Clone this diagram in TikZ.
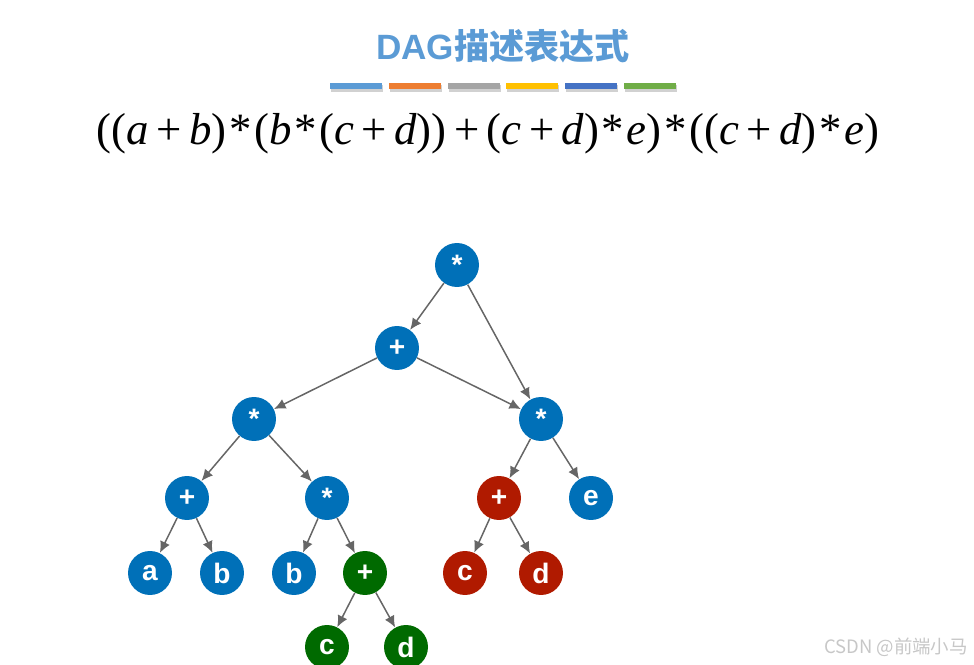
\documentclass[tikz,border=0pt]{standalone}
\usepackage{fontspec}
\setmainfont{Liberation Serif}
\setsansfont{Liberation Sans}
\newfontfamily\cjk{Noto Sans CJK SC}
\usepackage{xcolor}
\usetikzlibrary{arrows.meta}
\definecolor{TitleBlue}{HTML}{5B9BD5}
\definecolor{NodeBlue}{HTML}{0070B8}
\definecolor{NodeGreen}{HTML}{006A00}
\definecolor{NodeRed}{HTML}{B01A00}
\definecolor{EdgeGray}{HTML}{666666}
\definecolor{BarA}{HTML}{5B9BD5}
\definecolor{BarB}{HTML}{ED7D31}
\definecolor{BarC}{HTML}{A5A5A5}
\definecolor{BarD}{HTML}{FFC000}
\definecolor{BarE}{HTML}{4472C4}
\definecolor{BarF}{HTML}{70AD47}
\newcommand{\vx}[1]{\textit{#1}}
\newcommand{\op}[1]{\,#1\,}
\newcommand{\tm}{\kern1.5pt*\kern1.5pt}
\tikzset{
  vertex/.style={circle,minimum size=0.88cm,inner sep=0pt,text=white,
                 font=\sffamily\bfseries\fontsize{16}{16}\selectfont},
  bluenode/.style={vertex,fill=NodeBlue},
  greennode/.style={vertex,fill=NodeGreen},
  rednode/.style={vertex,fill=NodeRed},
  flow/.style={-{Latex[length=2.3mm,width=2.1mm]},line width=0.85pt,draw=EdgeGray},
  title/.style={font=\sffamily\bfseries\fontsize{20}{20}\selectfont,text=TitleBlue},
  watermark/.style={font=\cjk\fontsize{10.5}{10.5}\selectfont,text=black!22}
}

\begin{document}
\begin{tikzpicture}[x=0.02cm,y=-0.02cm]
  \useasboundingbox (0,0) rectangle (974,665);
  \node[title] (head) at (503,46) {DAG{\cjk 描述表达式}};
  % colour bars under the heading
  \foreach \c [count=\i from 0] in {BarA,BarB,BarC,BarD,BarE,BarF}{
    \fill[black!18] (331+\i*58.8,85) rectangle ++(52,7);
    \fill[\c] (330+\i*58.8,83) rectangle ++(52,6);
  }
  \node[font=\fontsize{25.5}{25.5}\selectfont] (expr) at (488,134)
    {((\vx{a}\op{+}\vx{b})\tm(\vx{b}\tm(\vx{c}\op{+}\vx{d}))\op{+}(\vx{c}\op{+}\vx{d})\tm\vx{e})\tm((\vx{c}\op{+}\vx{d})\tm\vx{e})};

  \node[bluenode] (root) at (457,265) {*};
  \node[bluenode] (sum) at (397,348) {+};
  \node[bluenode] (prodL) at (254,419) {*};
  \node[bluenode] (prodR) at (541,419) {*};
  \node[bluenode] (sumAB) at (187,498) {+};
  \node[bluenode] (prodB) at (327,498) {*};
  \node[rednode] (sumCDr) at (499,498) {+};
  \node[bluenode] (e1) at (591,498) {e};
  \node[bluenode] (a1) at (150,573) {a};
  \node[bluenode] (b1) at (222,573) {b};
  \node[bluenode] (b2) at (294,573) {b};
  \node[greennode] (sumCDg) at (365,573) {+};
  \node[rednode] (c2) at (465,573) {c};
  \node[rednode] (d2) at (541,573) {d};
  \node[greennode] (c1) at (327,647) {c};
  \node[greennode] (d1) at (406,647) {d};

  \draw[flow] (root) -- (sum);
  \draw[flow] (root) -- (prodR);
  \draw[flow] (sum) -- (prodL);
  \draw[flow] (sum) -- (prodR);
  \draw[flow] (prodL) -- (sumAB);
  \draw[flow] (prodL) -- (prodB);
  \draw[flow] (sumAB) -- (a1);
  \draw[flow] (sumAB) -- (b1);
  \draw[flow] (prodB) -- (b2);
  \draw[flow] (prodB) -- (sumCDg);
  \draw[flow] (sumCDg) -- (c1);
  \draw[flow] (sumCDg) -- (d1);
  \draw[flow] (prodR) -- (sumCDr);
  \draw[flow] (prodR) -- (e1);
  \draw[flow] (sumCDr) -- (c2);
  \draw[flow] (sumCDr) -- (d2);

  \node[watermark] (wm) at (896,647) {CSDN @前端小马};
\end{tikzpicture}
\end{document}
